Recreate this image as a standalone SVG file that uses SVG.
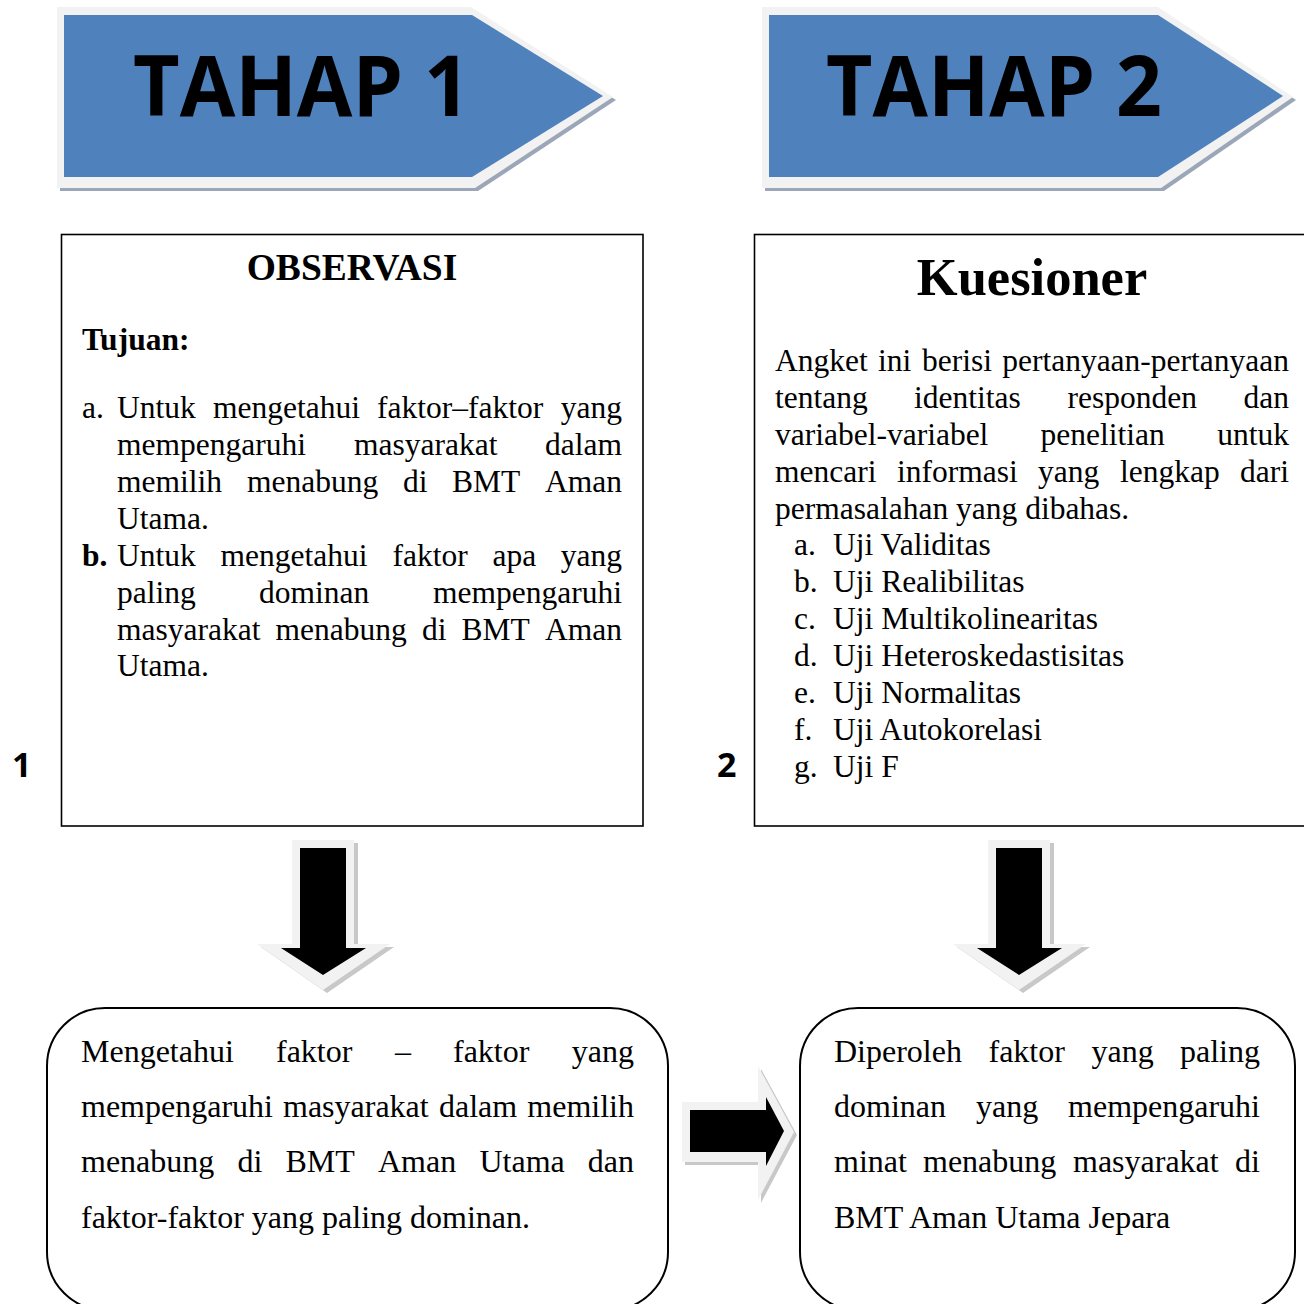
<svg xmlns="http://www.w3.org/2000/svg" width="1304" height="1304" viewBox="0 0 1304 1304">
<style>
.t{font-family:"Liberation Serif","Times New Roman",serif;font-size:31.5px;fill:#000}
.tb{font-family:"Liberation Serif","Times New Roman",serif;font-size:32px;fill:#000}
.b{font-weight:bold}
.e{text-anchor:end}
.hd{font-family:"Open Sans","Noto Sans",sans-serif;font-weight:bold;font-size:84px;fill:#000}
.num{font-family:"Open Sans","Noto Sans",sans-serif;font-weight:bold;font-size:34px;fill:#000}
.box{fill:#fff;stroke:#000;stroke-width:1.6}
.rbox{fill:#fff;stroke:#000;stroke-width:2}
.frame{fill:#f2f2f2}
.shadowB{fill:#9ba7b8}
.shadowG{fill:#c8c8c8}
.blue{fill:#4f81bd}
.blk{fill:#000}
</style>
<rect width="1304" height="1304" fill="#fff"/>

<g id="tahap1">
<polygon class="shadowB" points="60,10 473,10 616,100 478,191 60,191"/>
<polygon class="frame" points="57,7 471,7 613,97 475,188 57,188"/>
<polygon class="blue" points="64,15 472,15 603,96 472,177 64,177"/>
<text class="hd" x="133" y="116" textLength="337" lengthAdjust="spacingAndGlyphs">TAHAP 1</text>
</g>

<g id="tahap2">
<polygon class="shadowB" points="765,10 1160,10 1296,100 1164,191 765,191"/>
<polygon class="frame" points="762,7 1158,7 1293,97 1161,188 762,188"/>
<polygon class="blue" points="769,15 1158,15 1283,96 1158,177 769,177"/>
<text class="hd" x="826" y="116" textLength="336" lengthAdjust="spacingAndGlyphs">TAHAP 2</text>
</g>

<g id="label1"><text class="num" x="12" y="777">1</text></g>
<g id="label2"><text class="num" x="717" y="777">2</text></g>

<g id="observasi">
<rect class="box" x="61.5" y="234.5" width="581.5" height="591.5"/>
<text class="t b" x="352" y="280" text-anchor="middle" style="font-size:37.5px">OBSERVASI</text>
<text class="t b" x="82" y="350">Tujuan:</text>
<text class="t" x="82" y="418">a.</text>
<text class="t" y="418"><tspan x="117">Untuk</tspan><tspan x="213">mengetahui</tspan><tspan x="377">faktor–faktor</tspan></text>
<text class="t e" x="622" y="418">yang</text>
<text class="t" y="455"><tspan x="117">mempengaruhi</tspan><tspan x="354">masyarakat</tspan></text>
<text class="t e" x="622" y="455">dalam</text>
<text class="t" y="492"><tspan x="117">memilih</tspan><tspan x="247">menabung</tspan><tspan x="403">di</tspan><tspan x="452">BMT</tspan></text>
<text class="t e" x="622" y="492">Aman</text>
<text class="t" x="117" y="529">Utama.</text>
<text class="t b" x="82" y="566">b.</text>
<text class="t" y="566"><tspan x="117">Untuk</tspan><tspan x="220.5">mengetahui</tspan><tspan x="392.5">faktor</tspan><tspan x="492.5">apa</tspan></text>
<text class="t e" x="622" y="566">yang</text>
<text class="t" y="603"><tspan x="117">paling</tspan><tspan x="259">dominan</tspan></text>
<text class="t e" x="622" y="603">mempengaruhi</text>
<text class="t" y="640"><tspan x="117">masyarakat</tspan><tspan x="275.5">menabung</tspan><tspan x="422">di</tspan><tspan x="461.5">BMT</tspan></text>
<text class="t e" x="622" y="640">Aman</text>
<text class="t" x="117" y="676">Utama.</text>
</g>

<g id="kuesioner">
<rect class="box" x="754.5" y="234.5" width="560" height="591.5"/>
<text class="t b" x="1032" y="295" text-anchor="middle" style="font-size:52.5px">Kuesioner</text>
<text class="t" y="371"><tspan x="775">Angket</tspan><tspan x="878">ini</tspan><tspan x="922">berisi</tspan></text>
<text class="t e" x="1289" y="371">pertanyaan-pertanyaan</text>
<text class="t" y="408"><tspan x="775">tentang</tspan><tspan x="914">identitas</tspan><tspan x="1067.5">responden</tspan></text>
<text class="t e" x="1289" y="408">dan</text>
<text class="t" y="445"><tspan x="775">variabel-variabel</tspan><tspan x="1040.5">penelitian</tspan></text>
<text class="t e" x="1289" y="445">untuk</text>
<text class="t" y="482"><tspan x="775">mencari</tspan><tspan x="897">informasi</tspan><tspan x="1038">yang</tspan><tspan x="1120">lengkap</tspan></text>
<text class="t e" x="1289" y="482">dari</text>
<text class="t" x="775" y="519">permasalahan yang dibahas.</text>
<text class="t" y="555"><tspan x="794">a.</tspan><tspan x="833">Uji Validitas</tspan></text>
<text class="t" y="592"><tspan x="794">b.</tspan><tspan x="833">Uji Realibilitas</tspan></text>
<text class="t" y="629"><tspan x="794">c.</tspan><tspan x="833">Uji Multikolinearitas</tspan></text>
<text class="t" y="666"><tspan x="794">d.</tspan><tspan x="833">Uji Heteroskedastisitas</tspan></text>
<text class="t" y="703"><tspan x="794">e.</tspan><tspan x="833">Uji Normalitas</tspan></text>
<text class="t" y="740"><tspan x="794">f.</tspan><tspan x="833">Uji Autokorelasi</tspan></text>
<text class="t" y="777"><tspan x="794">g.</tspan><tspan x="833">Uji F</tspan></text>
</g>

<g id="hasil1">
<rect class="rbox" x="47" y="1008" width="621" height="302" rx="58" ry="58"/>
<text class="tb" y="1062"><tspan x="81">Mengetahui</tspan><tspan x="276">faktor</tspan><tspan x="395">–</tspan><tspan x="453">faktor</tspan></text>
<text class="tb e" x="634" y="1062">yang</text>
<text class="tb" y="1117"><tspan x="81">mempengaruhi</tspan><tspan x="283">masyarakat</tspan><tspan x="439">dalam</tspan></text>
<text class="tb e" x="634" y="1117">memilih</text>
<text class="tb" y="1172"><tspan x="81">menabung</tspan><tspan x="237.5">di</tspan><tspan x="285.5">BMT</tspan><tspan x="378">Aman</tspan><tspan x="479.5">Utama</tspan></text>
<text class="tb e" x="634" y="1172">dan</text>
<text class="tb" x="81" y="1228">faktor-faktor yang paling dominan.</text>
</g>

<g id="hasil2">
<rect class="rbox" x="800" y="1008" width="495" height="302" rx="58" ry="58"/>
<text class="tb" y="1062"><tspan x="834">Diperoleh</tspan><tspan x="988.5">faktor</tspan><tspan x="1091.5">yang</tspan></text>
<text class="tb e" x="1260" y="1062">paling</text>
<text class="tb" y="1117"><tspan x="834">dominan</tspan><tspan x="976">yang</tspan></text>
<text class="tb e" x="1260" y="1117">mempengaruhi</text>
<text class="tb" y="1172"><tspan x="834">minat</tspan><tspan x="923">menabung</tspan><tspan x="1073">masyarakat</tspan></text>
<text class="tb e" x="1260" y="1172">di</text>
<text class="tb" x="834" y="1228">BMT Aman Utama Jepara</text>
</g>

<g id="connectors">
<g id="arrow-down-1">
<polygon class="shadowG" points="296,843 358,843 358,947 394,947 327,993 261,947 296,947"/>
<polygon class="frame" points="292,840 354,840 354,944 390,944 323,990 257,944 292,944"/>
<polygon class="blk" points="300,848 346,848 346,948 366,948 323,975 281,948 300,948"/>
</g>
<g id="arrow-down-2">
<polygon class="shadowG" points="992,843 1054,843 1054,947 1090,947 1023,993 957,947 992,947"/>
<polygon class="frame" points="988,840 1050,840 1050,944 1086,944 1019,990 953,944 988,944"/>
<polygon class="blk" points="996,848 1042,848 1042,948 1062,948 1019,975 977,948 996,948"/>
</g>
<g id="arrow-right">
<polygon class="shadowG" points="685,1105 761,1105 761,1069 797,1135 761,1203 761,1165 685,1165"/>
<polygon class="frame" points="682,1102 758,1102 758,1066 794,1132 758,1200 758,1162 682,1162"/>
<polygon class="blk" points="690,1110 766,1110 766,1097 784,1131 766,1166 766,1152 690,1152"/>
</g>
</g>
</svg>
